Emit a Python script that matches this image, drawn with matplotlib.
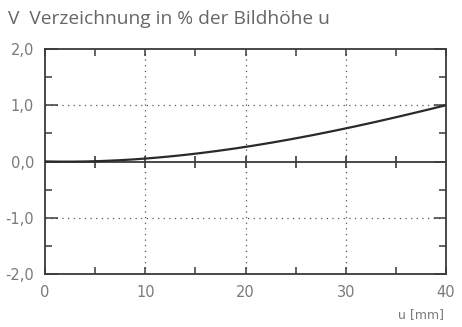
import matplotlib
matplotlib.use('Agg')
import matplotlib.pyplot as plt
import numpy as np
from matplotlib.ticker import MultipleLocator, FixedLocator

# Verzeichnung über der Bildhöhe
u_mm = [0, 5, 10, 15, 20, 25, 30, 35, 40]
verzeichnung = [0.0, 0.01, 0.05, 0.14, 0.26, 0.41, 0.59, 0.79, 1.0]

x_labels = ['0', '10', '20', '30', '40']
y_labels = ['-2,0', '-1,0', '0,0', '1,0', '2,0']

frame = '#3a3a3a'
text_col = '#7a7a7a'

fig = plt.figure(figsize=(4.62, 3.27), dpi=100)
ax = fig.add_axes([0.0974, 0.162, 0.868, 0.688])

# Kurve aus Stützstellen glätten
uu = np.linspace(0, 40, 200)
coef = np.polyfit(u_mm, verzeichnung, 3)
ax.plot(uu, np.polyval(coef, uu), color='#2a2a2a', lw=1.6, zorder=4)

# Nulllinie mit Teilstrichen
ax.axhline(0, color=frame, lw=1.3, zorder=3)
ax.plot([5, 10, 15, 20, 25, 30, 35], [0] * 7, '|', color=frame, ms=9, mew=1.2, zorder=3)

# gepunktetes Gitter
for gx in [10, 20, 30]:
    ax.axvline(gx, color='#555555', lw=0.9, ls=(0, (1, 3.5)), zorder=1)
for gy in [-1, 1]:
    ax.axhline(gy, color='#555555', lw=0.9, ls=(0, (1, 3.5)), zorder=1)

ax.set_xlim(0, 40)
ax.set_ylim(-2, 2)
ax.xaxis.set_major_locator(FixedLocator([0, 10, 20, 30, 40]))
ax.yaxis.set_major_locator(FixedLocator([-2, -1, 0, 1, 2]))
ax.xaxis.set_minor_locator(MultipleLocator(5))
ax.yaxis.set_minor_locator(MultipleLocator(0.5))
ax.set_xticklabels(x_labels)
ax.set_yticklabels(y_labels)

ax.tick_params(which='both', direction='in', top=True, right=True, color=frame, width=1.1,
               labelcolor=text_col, labelsize=10.5)
ax.tick_params(axis='x', which='major', length=5, pad=8)
ax.tick_params(axis='y', which='major', length=9, pad=8)
ax.tick_params(which='minor', length=5)
for s in ax.spines.values():
    s.set_color(frame)
    s.set_linewidth(1.3)

fig.text(0.017, 0.942, 'V  Verzeichnung in % der Bildhöhe u', fontsize=13.8, color='#666666',
         family='Open Sans', va='center', ha='left')
fig.text(0.96, 0.037, 'u [mm]', fontsize=9, color=text_col, ha='right', va='center')

fig.savefig('out.png', dpi=100)
